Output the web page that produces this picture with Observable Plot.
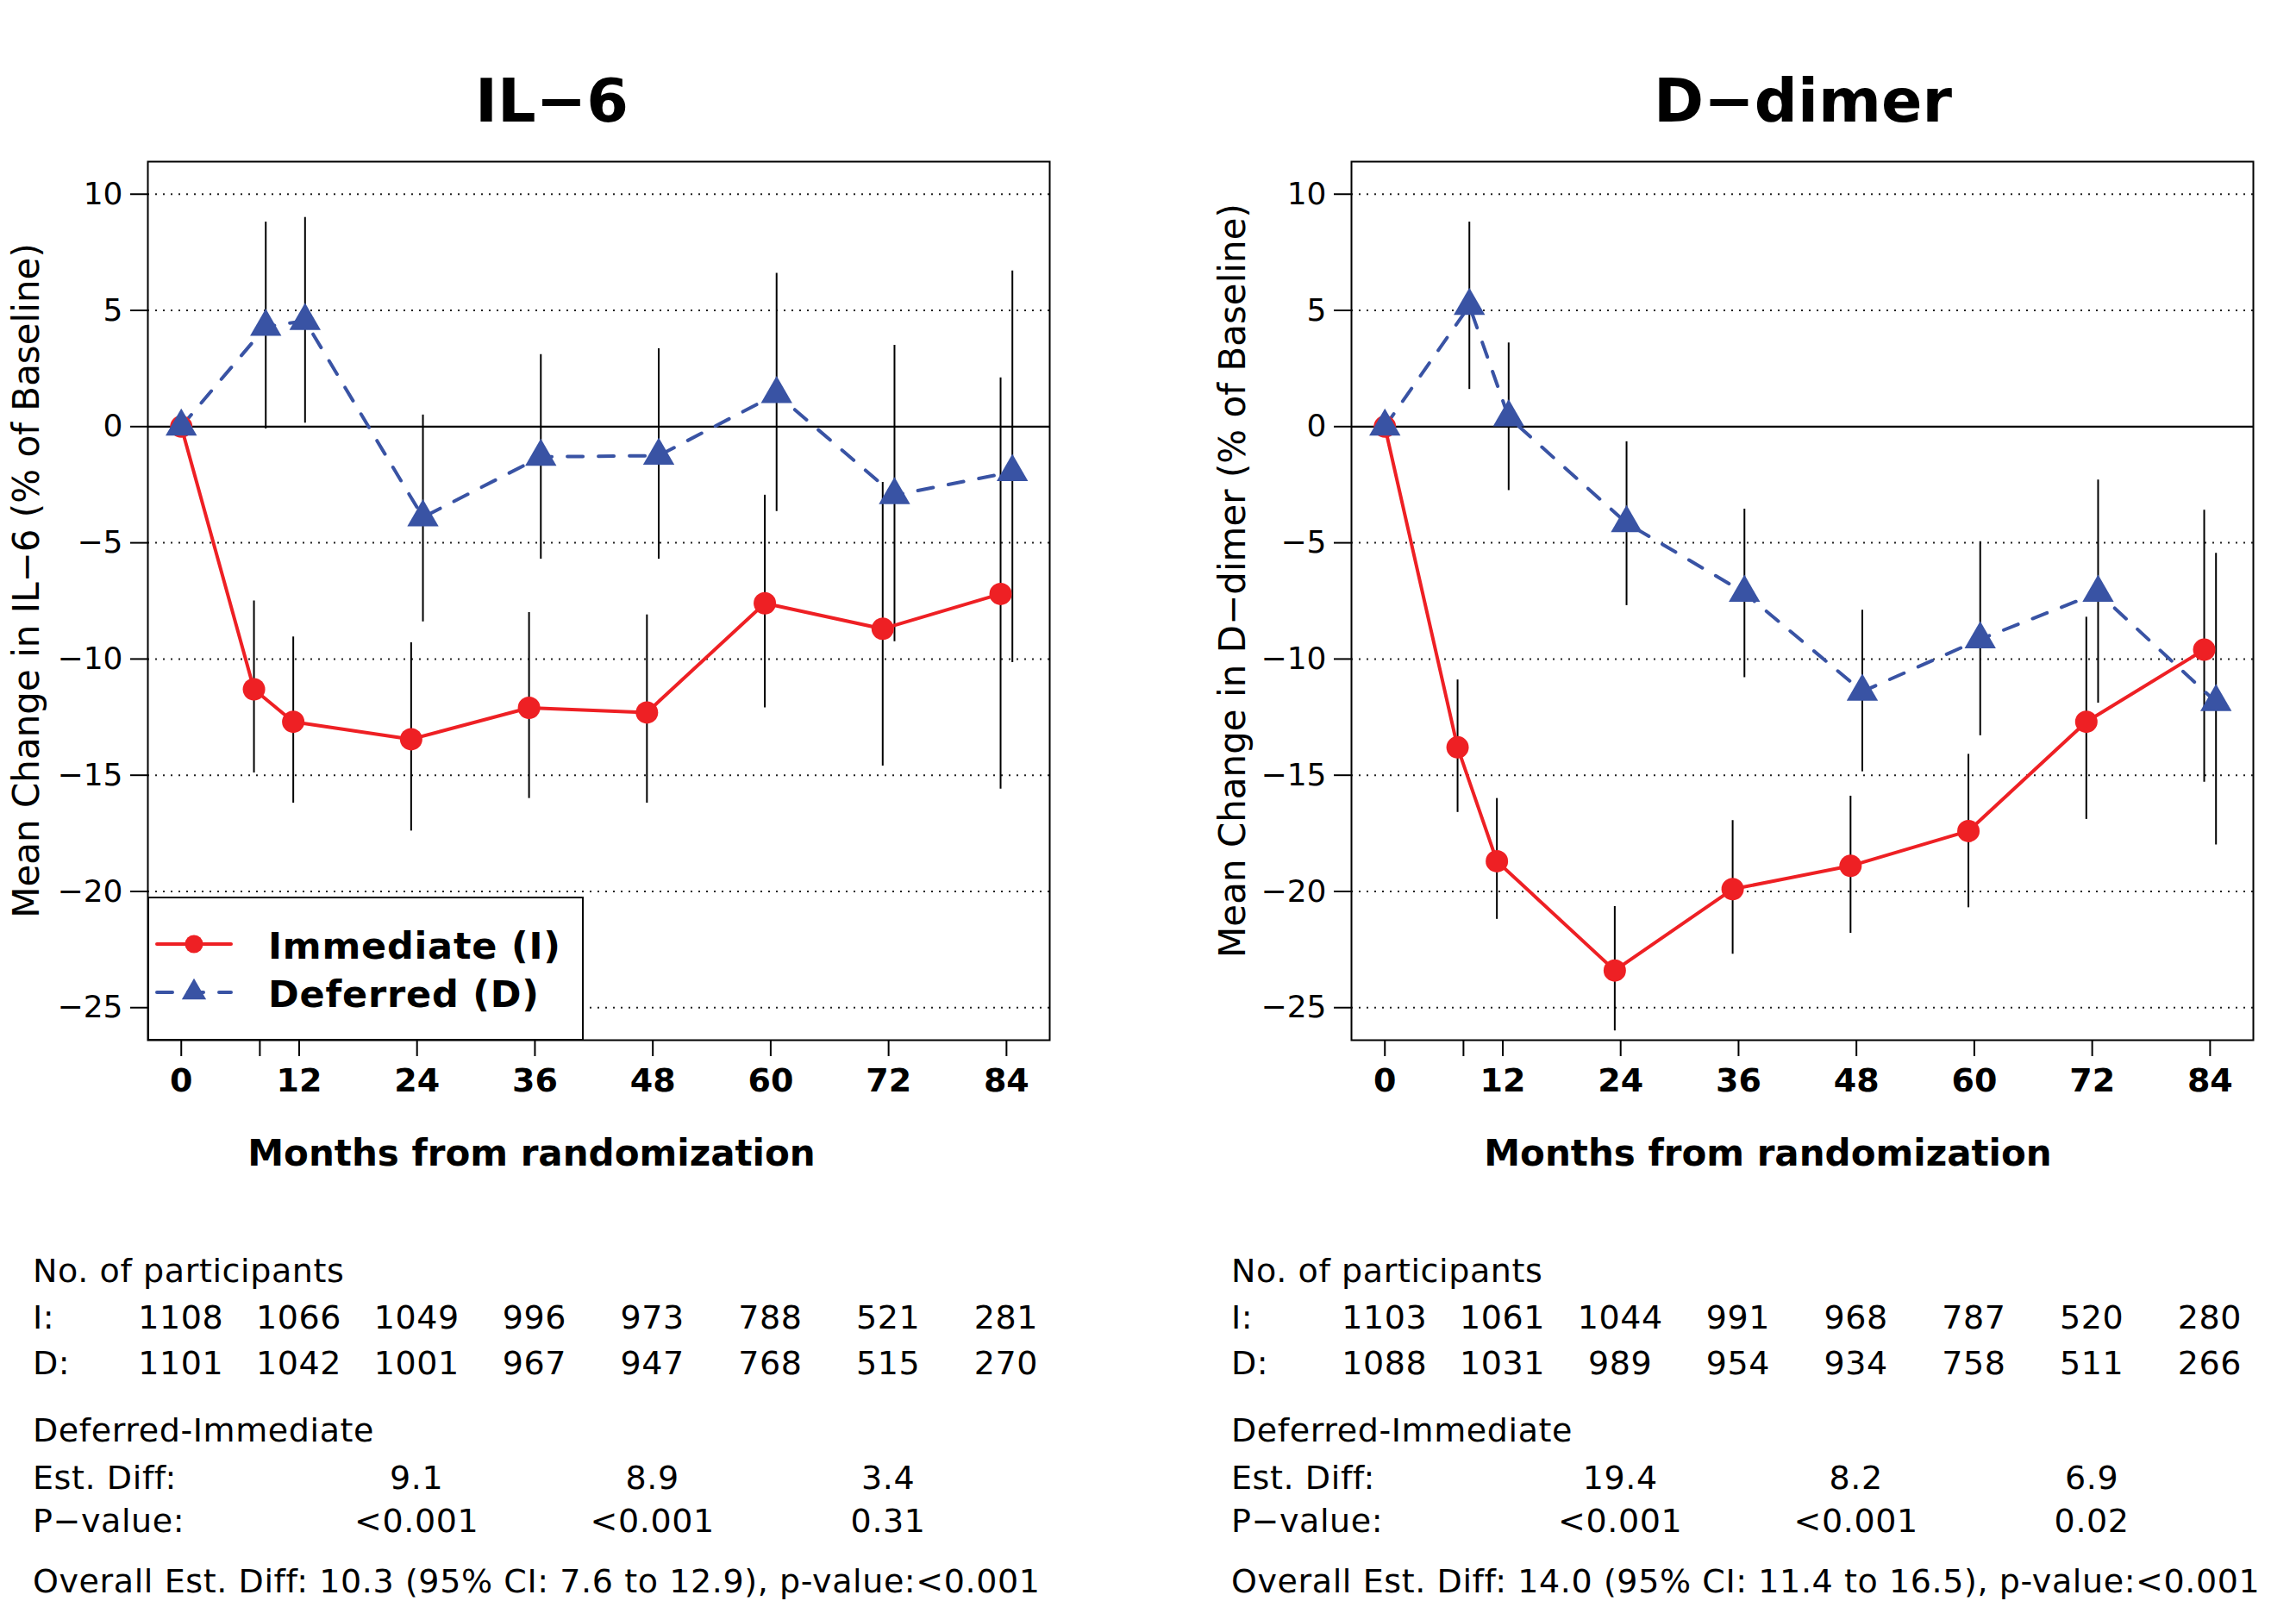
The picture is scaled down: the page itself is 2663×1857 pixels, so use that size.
<!DOCTYPE html>
<html><head><meta charset="utf-8">
<script src="https://cdn.jsdelivr.net/npm/d3@7"></script>
<script src="https://cdn.jsdelivr.net/npm/@observablehq/plot@0.6"></script>
<style>
html,body{margin:0;padding:0;background:#fff;}
#root{position:relative;width:2663px;height:1857px;overflow:hidden;font-family:"DejaVu Sans",Verdana,sans-serif;color:#000;}
.panel{position:absolute;top:0;width:1330px;height:1857px;}
.panel svg.main{position:absolute;left:0;top:0;}
.abs{position:absolute;white-space:nowrap;line-height:1;}
.title{font-weight:bold;font-size:70px;transform:translate(-50%,-50%);}
.tl{font-size:38px;letter-spacing:0.6px;transform:translateY(-50%);}
.tc{font-size:38px;letter-spacing:0.6px;transform:translate(-50%,-50%);}
.legend{position:absolute;background:#fff;border:2px solid #000;box-sizing:border-box;}
</style></head><body><div id="root"></div>
<script>
// ---------- data ----------
const months = [0, 8, 12, 24, 36, 48, 60, 72, 84];
const xTicks = [0, 8, 12, 24, 36, 48, 60, 72, 84];
const xTickLabels = ["0", "", "12", "24", "36", "48", "60", "72", "84"];
const yTicks = [10, 5, 0, -5, -10, -15, -20, -25];
const gridY = [10, 5, -5, -10, -15, -20, -25];
const tableMonths = [0, 12, 24, 36, 48, 60, 72, 84];
const diffMonths = [24, 48, 72];
const seriesNames = ["Immediate (I)", "Deferred (D)"];

const il6ImmMean = [0, -11.3, -12.7, -13.45, -12.1, -12.3, -7.6, -8.7, -7.2];
const il6ImmLow  = [0, -14.9, -16.2, -17.4, -16.0, -16.2, -12.1, -14.6, -15.6];
const il6ImmHigh = [0, -7.5, -9.05, -9.3, -8.0, -8.1, -2.95, -2.4, 2.1];
const il6DefMean = [0, 4.3, 4.55, -3.9, -1.3, -1.25, 1.4, -2.95, -1.95];
const il6DefLow  = [0, -0.1, 0.15, -8.4, -5.7, -5.7, -3.65, -9.25, -10.15];
const il6DefHigh = [0, 8.8, 9.0, 0.5, 3.1, 3.35, 6.6, 3.5, 6.7];

const ddImmMean = [0, -13.8, -18.7, -23.4, -19.9, -18.9, -17.4, -12.7, -9.6];
const ddImmLow  = [0, -16.6, -21.2, -26.0, -22.7, -21.8, -20.7, -16.9, -15.3];
const ddImmHigh = [0, -10.9, -16.0, -20.65, -16.95, -15.9, -14.1, -8.2, -3.6];
const ddDefMean = [0, 5.2, 0.4, -4.15, -7.15, -11.4, -9.15, -7.15, -11.85];
const ddDefLow  = [0, 1.6, -2.75, -7.7, -10.8, -14.85, -13.3, -11.9, -18.0];
const ddDefHigh = [0, 8.8, 3.6, -0.65, -3.55, -7.9, -4.95, -2.3, -5.45];

const il6NImm = [1108, 1066, 1049, 996, 973, 788, 521, 281];
const il6NDef = [1101, 1042, 1001, 967, 947, 768, 515, 270];
const ddNImm  = [1103, 1061, 1044, 991, 968, 787, 520, 280];
const ddNDef  = [1088, 1031, 989, 954, 934, 758, 511, 266];

const il6EstDiff = ["9.1", "8.9", "3.4"];
const il6PValue  = ["<0.001", "<0.001", "0.31"];
const ddEstDiff  = ["19.4", "8.2", "6.9"];
const ddPValue   = ["<0.001", "<0.001", "0.02"];

const il6Overall = "Overall Est. Diff: 10.3 (95% CI: 7.6 to 12.9), p-value:<0.001";
const ddOverall  = "Overall Est. Diff: 14.0 (95% CI: 11.4 to 16.5), p-value:<0.001";

// ---------- style / layout ----------
const RED = "#ee2024";
const BLUE = "#3953a4";
const DODGE = 0.6; // months offset between the two groups

const W = 1330, H = 1400;
const ML = 171, MR = 113, MT = 187, MB = 194;
const rowY = {np: 1474, i: 1528, d: 1581, di: 1659, est: 1714, p: 1764, ov: 1834};

const panels = [
  {left: 0, title: "IL\u22126", titleX: 640, yLabel: "Mean Change in IL\u22126 (% of Baseline)", yLabelX: 31,
   xTitleX: 616, labelX: 38, legend: true,
   imm: [il6ImmMean, il6ImmLow, il6ImmHigh], def: [il6DefMean, il6DefLow, il6DefHigh],
   nImm: il6NImm, nDef: il6NDef, est: il6EstDiff, pv: il6PValue, overall: il6Overall},
  {left: 1396, title: "D\u2212dimer", titleX: 2091, yLabel: "Mean Change in D\u2212dimer (% of Baseline)", yLabelX: 34,
   xTitleX: 654 + 1396, labelX: 1428, legend: false,
   imm: [ddImmMean, ddImmLow, ddImmHigh], def: [ddDefMean, ddDefLow, ddDefHigh],
   nImm: ddNImm, nDef: ddNDef, est: ddEstDiff, pv: ddPValue, overall: ddOverall}
];

const root = document.getElementById("root");
function addText(parent, cls, txt, x, y, extra) {
  const el = document.createElement("div");
  el.className = "abs " + cls;
  el.textContent = txt;
  el.style.left = x + "px";
  el.style.top = y + "px";
  if (extra) Object.assign(el.style, extra);
  parent.appendChild(el);
  return el;
}
const fmtTick = d => d < 0 ? "\u2212" + Math.abs(d) : String(d);

for (const p of panels) {
  const div = document.createElement("div");
  div.className = "panel";
  div.style.left = p.left + "px";
  root.appendChild(div);

  const imm = months.map((m, i) => ({x: m === 0 ? m : m - DODGE, y: p.imm[0][i], lo: p.imm[1][i], hi: p.imm[2][i]}));
  const def = months.map((m, i) => ({x: m === 0 ? m : m + DODGE, y: p.def[0][i], lo: p.def[1][i], hi: p.def[2][i]}));
  const errs = imm.concat(def).filter(d => d.lo !== d.hi);

  const plot = Plot.plot({
    width: W, height: H,
    marginLeft: ML, marginRight: MR, marginTop: MT, marginBottom: MB,
    style: {fontFamily: "'DejaVu Sans', Verdana, sans-serif", background: "transparent", color: "#000", overflow: "visible"},
    x: {domain: [-3.4, 88.4]},
    y: {domain: [-26.4, 11.4]},
    marks: [
      Plot.ruleY(gridY, {stroke: "#222", strokeWidth: 2, strokeDasharray: "2,7"}),
      Plot.ruleY([0], {stroke: "#000", strokeWidth: 2.2}),
      Plot.axisY({ticks: yTicks, tickSize: 20, tickPadding: 9, fontSize: 36, strokeWidth: 2, label: null, tickFormat: fmtTick}),
      Plot.axisX({ticks: xTicks, tickSize: 19, tickPadding: 14, fontSize: 38, fontWeight: "bold", strokeWidth: 2, label: null,
                  tickFormat: d => xTickLabels[xTicks.indexOf(d)]}),
      Plot.ruleX(errs, {x: "x", y1: "lo", y2: "hi", stroke: "#000", strokeWidth: 2}),
      Plot.line(imm, {x: "x", y: "y", stroke: RED, strokeWidth: 4, strokeLinejoin: "round", strokeLinecap: "round"}),
      Plot.line(def, {x: "x", y: "y", stroke: BLUE, strokeWidth: 4, strokeDasharray: "18,18", strokeLinejoin: "round", strokeLinecap: "round"}),
      Plot.dot(imm, {x: "x", y: "y", r: 13, fill: RED, symbol: "circle"}),
      Plot.dot(def, {x: "x", y: "y", r: 13.5, fill: BLUE, symbol: "triangle"}),
      Plot.frame({stroke: "#000", strokeWidth: 2}),
      Plot.text([p.yLabel], {text: d => d, frameAnchor: "left", textAnchor: "middle", lineAnchor: "middle", rotate: -90,
                             dx: p.yLabelX - ML, dy: 673 - (MT + (H - MT - MB) / 2), fontSize: 42}),
      Plot.text(["Months from randomization"], {text: d => d, frameAnchor: "bottom", textAnchor: "middle", lineAnchor: "middle",
                             dx: (p.xTitleX - p.left) - (ML + (W - ML - MR) / 2), dy: 1338 - (H - MB), fontSize: 42, fontWeight: "bold"})
    ]
  });
  plot.classList.add("main");
  div.appendChild(plot);

  const xs = plot.scale("x");
  // title
  addText(root, "title", p.title, p.titleX, 117);

  // table
  addText(root, "tl", "No. of participants", p.labelX, rowY.np);
  addText(root, "tl", "I:", p.labelX, rowY.i);
  addText(root, "tl", "D:", p.labelX, rowY.d);
  tableMonths.forEach((m, i) => {
    addText(root, "tc", String(p.nImm[i]), p.left + xs.apply(m), rowY.i);
    addText(root, "tc", String(p.nDef[i]), p.left + xs.apply(m), rowY.d);
  });
  addText(root, "tl", "Deferred-Immediate", p.labelX, rowY.di);
  addText(root, "tl", "Est. Diff:", p.labelX, rowY.est);
  addText(root, "tl", "P\u2212value:", p.labelX, rowY.p);
  diffMonths.forEach((m, i) => {
    addText(root, "tc", p.est[i], p.left + xs.apply(m), rowY.est);
    addText(root, "tc", p.pv[i], p.left + xs.apply(m), rowY.p);
  });
  addText(root, "tl", p.overall, p.labelX, rowY.ov);

  // legend
  if (p.legend) {
    const lg = document.createElement("div");
    lg.className = "legend";
    const lx = p.left + ML, ly = 1040, lw = 506, lh = 1206 - 1040 + 1;
    Object.assign(lg.style, {left: lx + "px", top: ly + "px", width: lw + "px", height: lh + "px"});
    const ns = "http://www.w3.org/2000/svg";
    const svg = document.createElementNS(ns, "svg");
    svg.setAttribute("width", lw); svg.setAttribute("height", lh);
    svg.style.position = "absolute"; svg.style.left = "-2px"; svg.style.top = "-2px";
    const items = [
      {name: seriesNames[0], color: RED, dash: null, sym: "circle", y: 55},
      {name: seriesNames[1], color: BLUE, dash: "18,18", sym: "triangle", y: 111}
    ];
    for (const it of items) {
      const ln = document.createElementNS(ns, "line");
      ln.setAttribute("x1", 11); ln.setAttribute("x2", 97);
      ln.setAttribute("y1", it.y); ln.setAttribute("y2", it.y);
      ln.setAttribute("stroke", it.color); ln.setAttribute("stroke-width", 4);
      ln.setAttribute("stroke-linecap", "round");
      if (it.dash) ln.setAttribute("stroke-dasharray", it.dash);
      svg.appendChild(ln);
      const sp = document.createElementNS(ns, "path");
      const sym = it.sym === "circle" ? d3.symbolCircle : d3.symbolTriangle;
      sp.setAttribute("d", d3.symbol(sym, Math.PI * 10.5 * 10.5)());
      sp.setAttribute("transform", `translate(54,${it.y})`);
      sp.setAttribute("fill", it.color);
      svg.appendChild(sp);
      const tx = document.createElementNS(ns, "text");
      tx.setAttribute("x", 140); tx.setAttribute("y", it.y + 2);
      tx.setAttribute("dominant-baseline", "central");
      tx.setAttribute("font-family", "'DejaVu Sans', Verdana, sans-serif");
      tx.setAttribute("font-size", 43); tx.setAttribute("font-weight", "bold");
      tx.setAttribute("letter-spacing", "0.8");
      tx.textContent = it.name;
      svg.appendChild(tx);
    }
    lg.appendChild(svg);
    root.appendChild(lg);
  }
}
</script></body></html>
